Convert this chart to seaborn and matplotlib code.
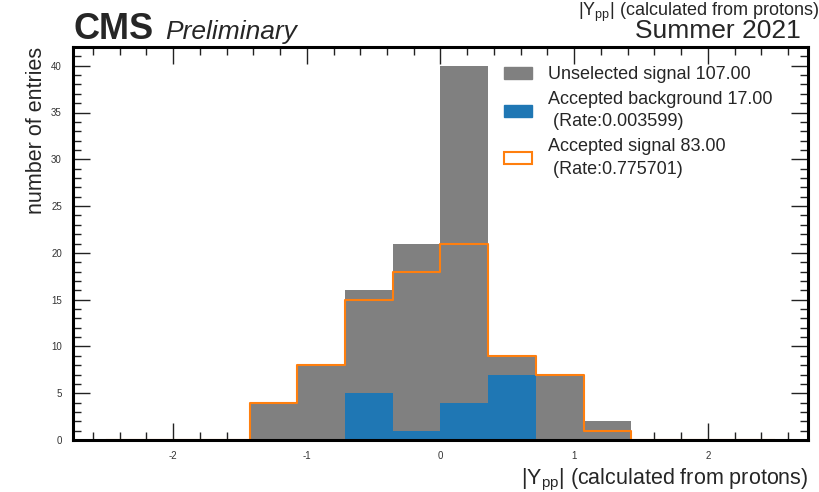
import numpy as np
import pandas as pd
import seaborn as sns
import matplotlib.pyplot as plt
from matplotlib.ticker import AutoMinorLocator, MultipleLocator
from matplotlib.patches import Patch

# histogram contents, 14 bins on [-2.5, 2.5]
bin_edges = np.linspace(-2.5, 2.5, 15)
unselected_signal = [0, 0, 0, 4, 8, 16, 21, 40, 9, 7, 2, 0, 0, 0]
accepted_background = [0, 0, 0, 0, 0, 5, 1, 4, 7, 0, 0, 0, 0, 0]
accepted_signal = [0, 0, 0, 4, 8, 15, 18, 21, 9, 7, 1, 0, 0, 0]

legend_labels = ["Unselected signal 107.00",
                 "Accepted background 17.00\n (Rate:0.003599)",
                 "Accepted signal 83.00\n (Rate:0.775701)"]
xlabel = r"|Y$_{\mathrm{pp}}$| (calculated from protons)"

sns.set_style("ticks")
plt.rcParams["font.family"] = ["Liberation Sans", "DejaVu Sans"]
plt.rcParams["mathtext.fontset"] = "custom"
plt.rcParams["mathtext.rm"] = "Liberation Sans"
plt.rcParams["axes.unicode_minus"] = False

df = pd.DataFrame({
    "center": (bin_edges[:-1] + bin_edges[1:]) / 2,
    "unsel": unselected_signal,
    "bkg": accepted_background,
    "sig": accepted_signal,
})
bins = list(bin_edges)

fig = plt.figure(figsize=(8.2, 4.92), dpi=100)
ax = fig.add_axes([73/820, 1-440/492, 735/820, 393/492])

sns.histplot(data=df, x="center", weights="unsel", bins=bins, element="bars",
             color="#808080", alpha=1, linewidth=0, ax=ax)
sns.histplot(data=df, x="center", weights="sig", bins=bins, element="step",
             fill=False, color="#ff7f0e", linewidth=1.5, ax=ax)
sns.histplot(data=df, x="center", weights="bkg", bins=bins, element="bars",
             color="#1f77b4", alpha=1, linewidth=0, ax=ax)

ax.set_xlim(-2.75, 2.75)
ax.set_ylim(0, 42)
ax.xaxis.set_major_locator(MultipleLocator(1))
ax.yaxis.set_major_locator(MultipleLocator(5))
ax.xaxis.set_minor_locator(AutoMinorLocator(5))
ax.yaxis.set_minor_locator(AutoMinorLocator(5))
ax.tick_params(which="both", direction="in", top=True, right=True,
               width=1, colors="#222222", labelsize=7, labelcolor="#333333")
ax.tick_params(which="major", length=12, pad=8)
ax.tick_params(which="minor", length=6)
for s in ax.spines.values():
    s.set_linewidth(2.2)
    s.set_color("black")

ax.set_xlabel(xlabel, fontsize=15.5, ha="right", va="baseline")
ax.xaxis.set_label_coords(1.0, (440 - 484) / 393)
ax.set_ylabel("number of entries", fontsize=15.5, loc="top", labelpad=3)

handles = [Patch(facecolor="#808080", edgecolor="#808080"),
           Patch(facecolor="#1f77b4", edgecolor="#1f77b4"),
           Patch(facecolor="white", edgecolor="#ff7f0e", linewidth=1.5)]
leg = ax.legend(handles, legend_labels, loc="upper left", frameon=False,
                fontsize=13, handlelength=1.55, handleheight=0.67, handletextpad=0.9,
                labelspacing=0.45, borderpad=0, borderaxespad=0,
                bbox_to_anchor=(504/820, 1-66/492), bbox_transform=fig.transFigure)
for t in leg.get_texts():
    t.set_linespacing(1.4)

fig.text(74/820, 1-39/492, "CMS", fontsize=26, fontweight="bold", ha="left", va="baseline")
fig.text(165/820, 1-39/492, "Preliminary", fontsize=19, style="italic", ha="left", va="baseline")
fig.text(801/820, 1-38/492, "Summer 2021", fontsize=19, ha="right", va="baseline")
fig.text(578/820, 1-16/492, r"|Y$_{\mathrm{pp}}$| (calculated from protons)", fontsize=13,
         ha="left", va="baseline")

fig.savefig("out.png", dpi=100)
